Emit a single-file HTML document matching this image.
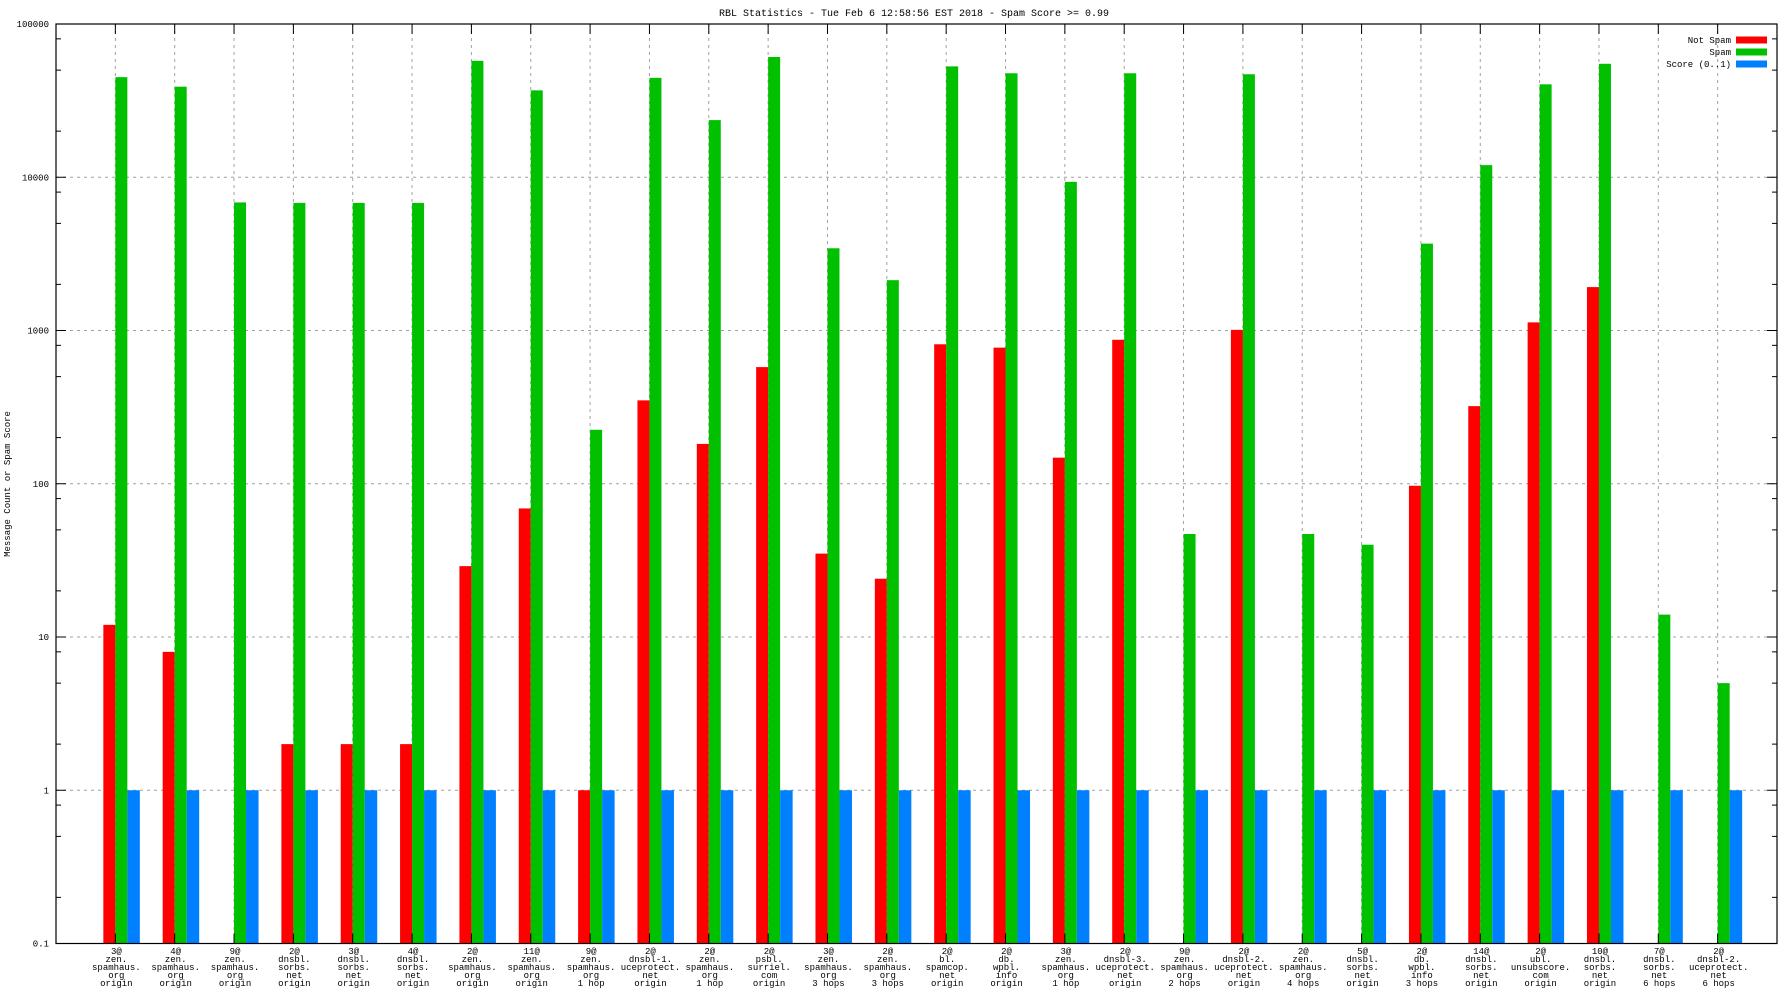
<!DOCTYPE html>
<html><head><meta charset="utf-8"><style>
html,body{margin:0;padding:0;background:#fff;}
svg{display:block;font-family:"Liberation Mono",monospace;}
</style></head><body>
<svg id="chart" width="1792" height="1008" viewBox="0 0 1792 1008" xmlns="http://www.w3.org/2000/svg">
<text x="914" y="16" font-size="10" text-anchor="middle">RBL Statistics - Tue Feb  6 12:58:56 EST 2018 - Spam Score &gt;= 0.99</text>
<text transform="translate(10,484) rotate(-90)" font-size="9" text-anchor="middle">Message Count or Spam Score</text>
<g id="grid"></g>
<g id="bars"></g>
<g id="axes"></g>
<g id="legend"></g>
</svg>
<script>
const categories = [
 ["3@","zen.","spamhaus.","org","origin"],
 ["4@","zen.","spamhaus.","org","origin"],
 ["9@","zen.","spamhaus.","org","origin"],
 ["2@","dnsbl.","sorbs.","net","origin"],
 ["3@","dnsbl.","sorbs.","net","origin"],
 ["4@","dnsbl.","sorbs.","net","origin"],
 ["2@","zen.","spamhaus.","org","origin"],
 ["11@","zen.","spamhaus.","org","origin"],
 ["9@","zen.","spamhaus.","org","1 hop"],
 ["2@","dnsbl-1.","uceprotect.","net","origin"],
 ["2@","zen.","spamhaus.","org","1 hop"],
 ["2@","psbl.","surriel.","com","origin"],
 ["3@","zen.","spamhaus.","org","3 hops"],
 ["2@","zen.","spamhaus.","org","3 hops"],
 ["2@","bl.","spamcop.","net","origin"],
 ["2@","db.","wpbl.","info","origin"],
 ["3@","zen.","spamhaus.","org","1 hop"],
 ["2@","dnsbl-3.","uceprotect.","net","origin"],
 ["9@","zen.","spamhaus.","org","2 hops"],
 ["2@","dnsbl-2.","uceprotect.","net","origin"],
 ["2@","zen.","spamhaus.","org","4 hops"],
 ["5@","dnsbl.","sorbs.","net","origin"],
 ["2@","db.","wpbl.","info","3 hops"],
 ["14@","dnsbl.","sorbs.","net","origin"],
 ["2@","ubl.","unsubscore.","com","origin"],
 ["10@","dnsbl.","sorbs.","net","origin"],
 ["7@","dnsbl.","sorbs.","net","6 hops"],
 ["2@","dnsbl-2.","uceprotect.","net","6 hops"]
];
const notSpam = [12,8,0,2,2,2,29,69,1,350,182,577,35,24,813,773,148,870,0,1010,0,0,97,321,1130,1920,0,0];
const spam = [45000,39000,6850,6800,6800,6800,57500,36900,225,44500,23600,60900,3440,2130,52900,47700,9330,47700,47,47000,47,40,3690,12000,40400,55000,14,5];
const score = [1,1,1,1,1,1,1,1,1,1,1,1,1,1,1,1,1,1,1,1,1,1,1,1,1,1,1,1];
const yTicks = [0.1,1,10,100,1000,10000,100000];
const yTickLabels = ["0.1","1","10","100","1000","10000","100000"];

const NS="http://www.w3.org/2000/svg";
const L=56,R=1777,T=24,B=943.5;
const slot=(R-L)/(categories.length+1);
function xs(i){return L+slot*(i+1);}
function ys(v){return B-(Math.log10(v)+1)*(B-T)/6;}
function mk(tag,attrs,parent){const e=document.createElementNS(NS,tag);for(const k in attrs)e.setAttribute(k,attrs[k]);parent.appendChild(e);return e;}
const grid=document.getElementById('grid'),bars=document.getElementById('bars'),axes=document.getElementById('axes'),legend=document.getElementById('legend');
// horizontal grid
yTicks.forEach((v,k)=>{
  if(k>0&&k<yTicks.length-1){
    const g=mk('line',{x1:L,x2:R,y1:ys(v),y2:ys(v),stroke:'#a0a0a0','stroke-dasharray':'3,4','stroke-width':1},grid);
    
    
  }
  const t=mk('text',{x:49,y:ys(v)+3,'font-size':9,'text-anchor':'end'},axes);
  t.textContent=yTickLabels[k];
  
  
  mk('line',{x1:L,x2:L+10,y1:ys(v),y2:ys(v),stroke:'#000'},axes);
  mk('line',{x1:R,x2:R-10,y1:ys(v),y2:ys(v),stroke:'#000'},axes);
  if(k<yTicks.length-1){[2,5,8].forEach(m=>{const y=ys(v*m);mk('line',{x1:L,x2:L+5,y1:y,y2:y,stroke:'#000'},axes);mk('line',{x1:R,x2:R-5,y1:y,y2:y,stroke:'#000'},axes);});}
});
// vertical grid and labels
categories.forEach((c,i)=>{
  const x=xs(i);
  const g=mk('line',{x1:x,x2:x,y1:T,y2:B,stroke:'#a0a0a0','stroke-dasharray':'3,4','stroke-width':1},grid);
  
  
  mk('line',{x1:x,x2:x,y1:T,y2:T+10,stroke:'#000'},axes);
  mk('line',{x1:x,x2:x,y1:B,y2:B-10,stroke:'#000'},axes);
  const t=mk('text',{x:x+1,y:954,'font-size':9,'text-anchor':'middle'},axes);
  
  
  c.forEach((line,j)=>{const s=mk('tspan',{x:x+1,y:954+j*8},t);s.textContent=line;});
});
// bars
function bar(v,x0,w,color,name){
  if(!(v>0))return;
  const y=Math.max(T,ys(v));
  const r=mk('rect',{x:x0,y:y,width:w,height:B-y,fill:color},bars);
  
  
}
categories.forEach((c,i)=>{
  const x=xs(i);
  bar(notSpam[i],x-12,12,'#ff0000','bar-not-spam');
  bar(spam[i],x,12,'#00c000','bar-spam');
  bar(score[i],x+12,12.5,'#0080ff','bar-score');
});
mk('rect',{x:L,y:T,width:R-L,height:B-T,fill:'none',stroke:'#000','stroke-width':1.2},axes);
// legend
const leg=[["Not Spam","#ff0000"],["Spam","#00c000"],["Score (0..1)","#0080ff"]];
leg.forEach((e,k)=>{
  const y=40+k*12;
  const t=mk('text',{x:1731,y:y+3,'font-size':9,'text-anchor':'end'},legend);
  t.textContent=e[0];
  
  
  const r=mk('rect',{x:1736,y:y-3.5,width:31,height:7,fill:e[1]},legend);
  
  
});
</script>
</body></html>
